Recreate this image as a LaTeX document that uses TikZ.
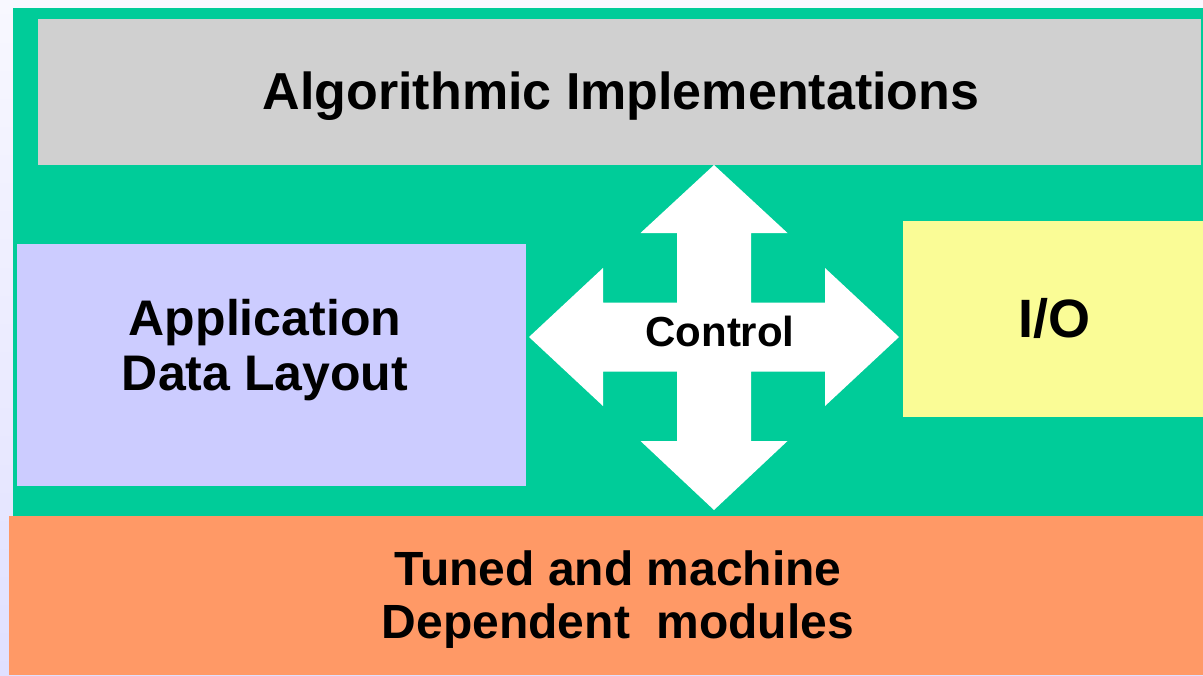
\documentclass[tikz,border=0pt]{standalone}
\usepackage{fontspec}
\setmainfont{Liberation Sans}
\definecolor{bggreen}{RGB}{0,204,153}
\definecolor{algogray}{RGB}{208,208,208}
\definecolor{layoutblue}{RGB}{204,204,255}
\definecolor{ioyellow}{RGB}{250,252,150}
\definecolor{tunedorange}{RGB}{255,153,102}
\begin{document}
\begin{tikzpicture}[x=0.5pt,y=-0.5pt,font=\bfseries,
  box/.style={inner sep=0pt, text=black},
  big/.style={font=\fontsize{24}{26.5}\selectfont\bfseries, align=center}]
\useasboundingbox (0,0) rectangle (1203,675);
\shade[top color={rgb,255:red,248;green,248;blue,255},bottom color={rgb,255:red,224;green,224;blue,255}] (0,0) rectangle (1203,675);
\fill[bggreen] (13,8) rectangle (1203,516);

\fill[algogray] (38,19) rectangle (1201,165);
\fill[layoutblue] (17,244) rectangle (526,486);
\fill[ioyellow] (903,221) rectangle (1203,417);
\fill[tunedorange] (9,516) rectangle (1203,675);

% four-way arrow
\fill[white] (714,165) -- (787.5,233) -- (751,233) -- (751,302.5) -- (825,302.5)
  -- (825,268) -- (899,337) -- (825,406) -- (825,371.5) -- (751,371.5)
  -- (751,441) -- (787.5,441) -- (714,510) -- (640.5,441) -- (677,441)
  -- (677,371.5) -- (603,371.5) -- (603,406) -- (529,337) -- (603,268)
  -- (603,302.5) -- (677,302.5) -- (677,233) -- (640.5,233) -- cycle;

\node[box,big,font=\fontsize{26}{28}\selectfont\bfseries] (algo) at (621,96) {Algorithmic Implementations};
\node[box,big,font=\fontsize{25}{27.5}\selectfont\bfseries] (layout) at (265,350) {Application\\Data Layout};
\node[box,big,font=\fontsize{27}{29}\selectfont\bfseries] (io) at (1054,318) {I/O};
\node[box,big] (tuned) at (618,600) {Tuned and machine\\Dependent\ \ modules};
\node[box,font=\fontsize{21}{24}\selectfont\bfseries] (ctrl) at (720,331) {Control};
\end{tikzpicture}
\end{document}
